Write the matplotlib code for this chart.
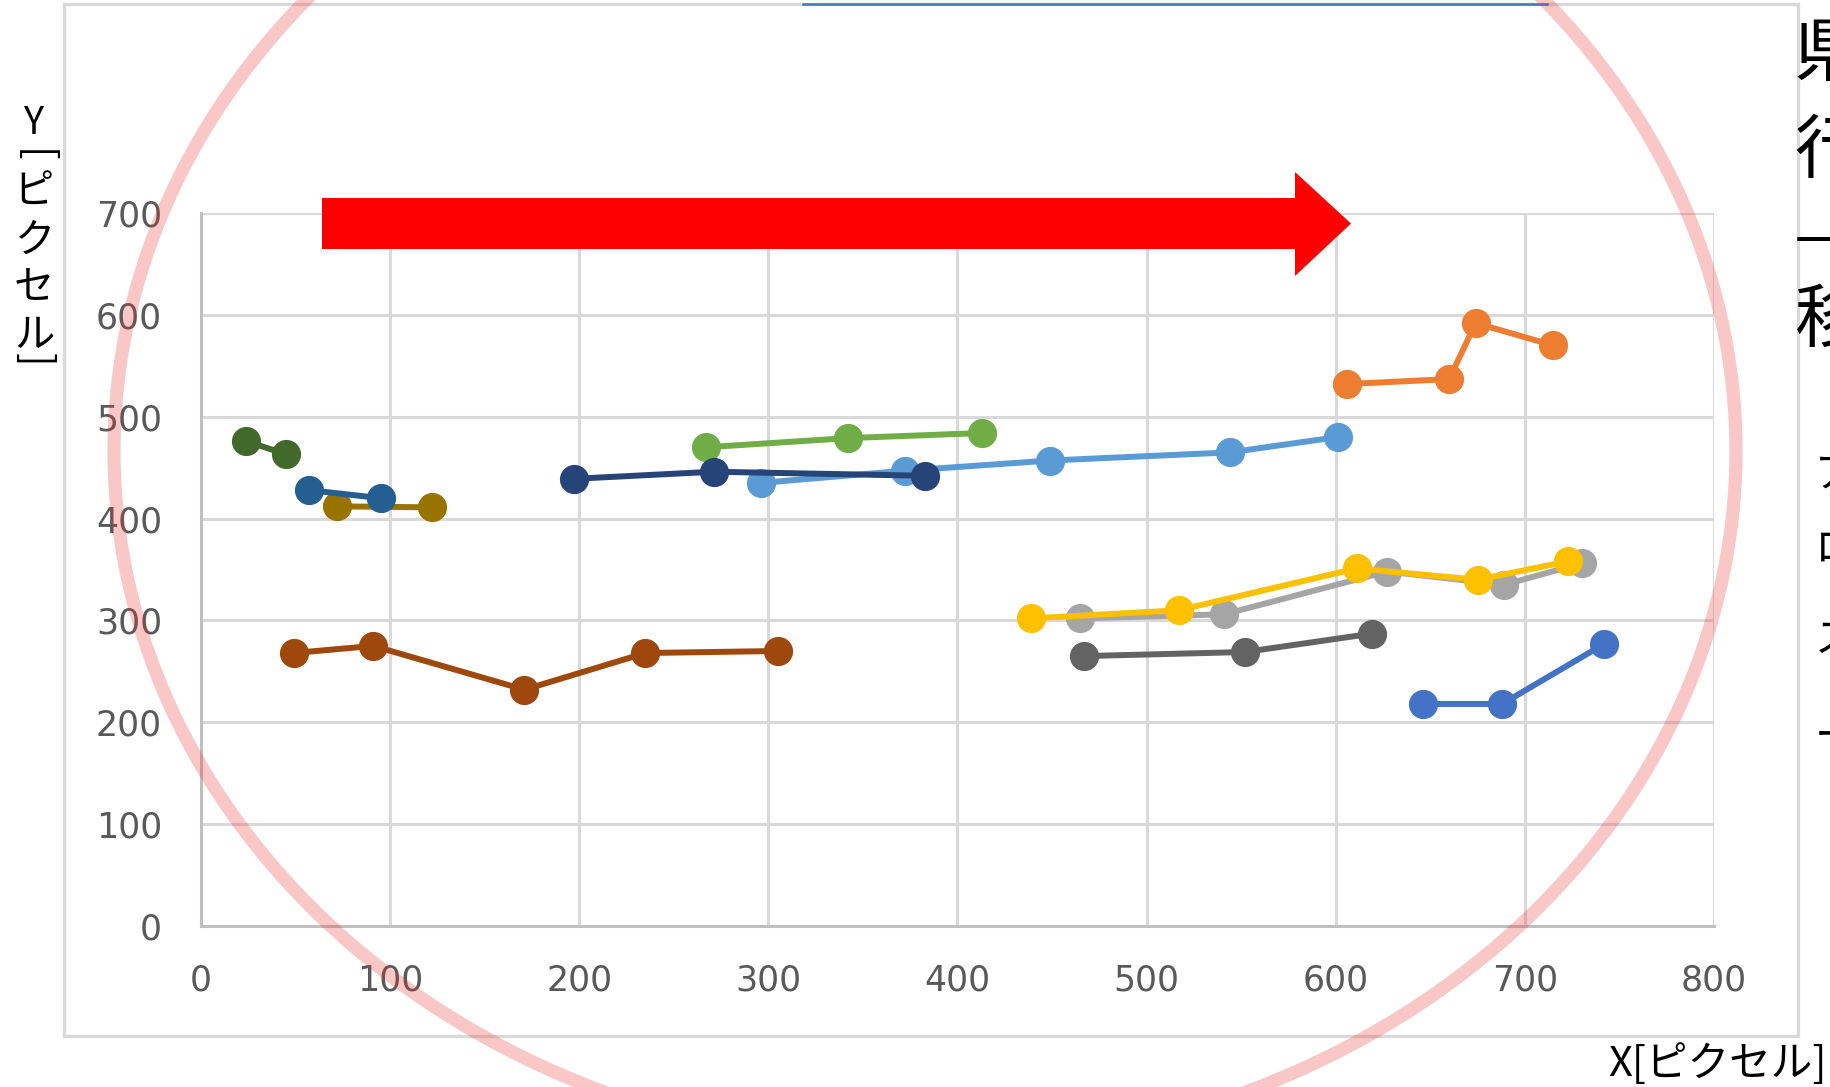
import matplotlib
matplotlib.use("Agg")
import matplotlib.pyplot as plt
from matplotlib.patches import Ellipse, Polygon, Rectangle
from matplotlib.lines import Line2D

plt.rcParams['font.family'] = ['Noto Sans CJK JP', 'DejaVu Sans']

# Trajectories (pixel coordinates) of tracked objects
blue_x = [646, 688, 742]
blue_y = [218, 218, 277]
orange_x = [606, 660, 674, 715]
orange_y = [532, 537, 592, 570]
gray_x = [465, 541, 627, 689, 730]
gray_y = [302, 306, 348, 335, 356]
yellow_x = [439, 517, 611, 675, 723]
yellow_y = [302, 310, 351, 340, 358]
lightblue_x = [296, 372, 449, 544, 601]
lightblue_y = [435, 447, 457, 465, 480]
green_x = [267, 342, 413]
green_y = [470, 479, 484]
navy_x = [197, 271, 383]
navy_y = [439, 446, 442]
brown_x = [49, 91, 171, 235, 305]
brown_y = [268, 275, 232, 268, 270]
darkgray_x = [467, 552, 619]
darkgray_y = [265, 269, 287]
gold_x = [72, 122]
gold_y = [412, 411]
steelblue_x = [57, 95]
steelblue_y = [428, 420]
darkgreen_x = [24, 45]
darkgreen_y = [476, 463]

series = [
    (blue_x, blue_y, "#4472C4"),
    (orange_x, orange_y, "#ED7D31"),
    (gray_x, gray_y, "#A5A5A5"),
    (yellow_x, yellow_y, "#FFC000"),
    (lightblue_x, lightblue_y, "#5B9BD5"),
    (green_x, green_y, "#70AD47"),
    (navy_x, navy_y, "#264478"),
    (brown_x, brown_y, "#9E480E"),
    (darkgray_x, darkgray_y, "#636363"),
    (gold_x, gold_y, "#997300"),
    (steelblue_x, steelblue_y, "#255E91"),
    (darkgreen_x, darkgreen_y, "#43682B"),
]

x_ticks = [0, 100, 200, 300, 400, 500, 600, 700, 800]
y_ticks = [0, 100, 200, 300, 400, 500, 600, 700]

W, H = 1831, 1087
fig = plt.figure(figsize=(W / 100, H / 100), dpi=100)
fig.patch.set_facecolor("white")

ax = fig.add_axes([201 / W, (H - 926) / H, 1513 / W, 713 / H])
for xs, ys, c in series:
    ax.plot(xs, ys, color=c, lw=4.3, marker="o", ms=20, mec=c, mfc=c,
            solid_capstyle="round")

ax.set_xlim(0, 800)
ax.set_ylim(0, 700)
ax.set_xticks(x_ticks)
ax.set_yticks(y_ticks)
ax.grid(True, color="#D9D9D9", lw=2.2)
ax.set_axisbelow(True)
for s in ["top", "right"]:
    ax.spines[s].set_visible(False)
for s in ["left", "bottom"]:
    ax.spines[s].set_color("#BFBFBF")
    ax.spines[s].set_linewidth(2.2)
ax.tick_params(length=0, labelsize=25, labelcolor="#595959")
ax.tick_params(axis="y", pad=28)
ax.tick_params(axis="x", pad=27)
for lab in ax.get_xticklabels() + ax.get_yticklabels():
    lab.set_fontfamily("DejaVu Sans")

# Overlay in figure pixel space for the frame, arrow, ring and captions
ov = fig.add_axes([0, 0, 1, 1], facecolor="none")
ov.set_xlim(0, W)
ov.set_ylim(H, 0)
ov.axis("off")

ov.add_patch(Rectangle((64, 4), 1734, 1032, fill=False, ec="#D9D9D9", lw=2.4))
ov.add_line(Line2D([803, 1547], [4, 4], color="#4472C4", lw=1.8))

ov.add_patch(Polygon([(322, 198), (1295, 198), (1295, 172), (1351, 223.5),
                      (1295, 276), (1295, 249), (322, 249)],
                     closed=True, fc="#FF0000", ec="none"))

ov.add_patch(Ellipse((925, 451), 2 * 811, 2 * 698, fill=False,
                     ec=(0.93, 0.2, 0.2, 0.27), lw=9.5))

# Vertical y-axis caption
ov.text(34, 124, "Y", fontsize=27, ha="center", va="center", color="black")
ov.text(34, 156, "[", fontsize=29, ha="center", va="center", rotation=-90,
        color="black")
for ch, yy in zip(["ピ", "ク", "セ", "ル"], [192, 240, 288, 336]):
    ov.text(34, yy, ch, fontsize=29, ha="center", va="center", color="black")
ov.text(34, 360, "]", fontsize=29, ha="center", va="center", rotation=-90,
        color="black")

ov.text(1827, 1064, "X[ピクセル]", fontsize=30, ha="right", va="center",
        color="black")

# Side caption, running off the right edge
for ch, yy in zip(["県", "行", "—", "移"], [55, 152, 239, 321]):
    ov.text(1794, yy, ch, fontsize=50, ha="left", va="center", color="black")
for ch, yy in zip(["ア", "ロ", "ス", "ー"], [475, 549, 640, 738]):
    ov.text(1815, yy, ch, fontsize=30, ha="left", va="center", color="black")

fig.savefig("out.png", dpi=100)
